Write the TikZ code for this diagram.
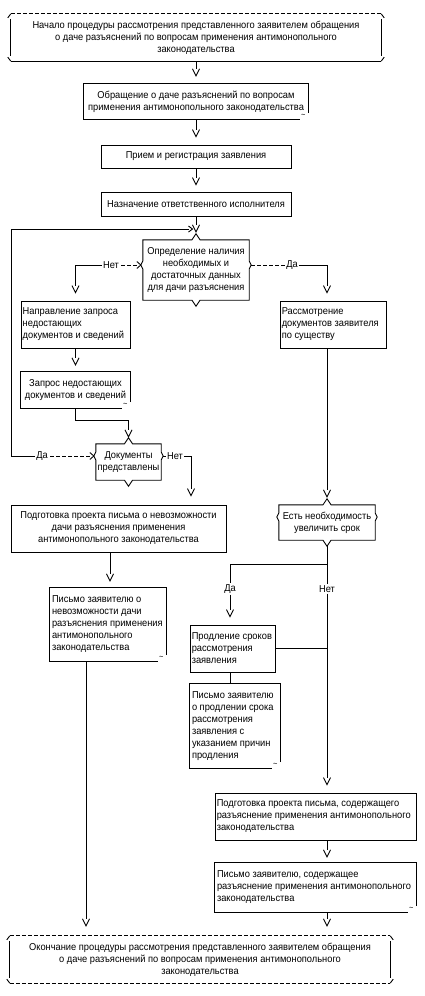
\documentclass[tikz,border=0pt]{standalone}
\usepackage{fontspec}
\setmainfont[FakeStretch=0.93]{Liberation Sans}
\usetikzlibrary{arrows.meta,calc}
\pgfdeclarearrow{
  name = Vee,
  parameters = {\the\pgfarrowlength,\the\pgfarrowwidth},
  setup code = {
    \pgfarrowssettipend{\pgfarrowlength}
    \pgfarrowssetlineend{0pt}
    \pgfarrowssetbackend{0pt}
    \pgfarrowshullpoint{\pgfarrowlength}{0pt}
    \pgfarrowsupperhullpoint{0pt}{.5\pgfarrowwidth}
    \pgfarrowssavethe\pgfarrowlength
    \pgfarrowssavethe\pgfarrowwidth
  },
  drawing code = {
    \pgfpathmoveto{\pgfqpoint{0pt}{.5\pgfarrowwidth}}
    \pgfpathlineto{\pgfqpoint{\pgfarrowlength}{0pt}}
    \pgfpathlineto{\pgfqpoint{0pt}{-.5\pgfarrowwidth}}
    \pgfusepathqstroke
  },
  defaults = {length=7pt,width=7pt}
}
\newcommand\dfont{\fontsize{10}{12}\selectfont}
\tikzset{
  ln/.style={line width=0.9pt},
  arr/.style={ln,-{Vee}},
  hv/.style={ln,-{Vee[length=4pt,width=6pt]}},
  dsh/.style={ln,dash pattern=on 4pt off 2pt},
  box/.style={draw,ln,rectangle,inner sep=0pt},
  shp/.style={rectangle,inner sep=0pt},
  txt/.style={align=left,inner sep=0pt,anchor=west},
  lab/.style={inner sep=1pt},
}
\newcommand\termframe[3]{%
  \draw[ln,#2] (#1.north west) -- (#1.north east);
  \draw[ln,#3] (#1.south west) -- (#1.south east);
  \draw[ln] (#1.north west) -- ([xshift=-3pt,yshift=-4pt]#1.north west);
  \draw[ln] ([yshift=-5pt]#1.north west) -- ([yshift=5pt]#1.south west);
  \draw[ln] ([xshift=-3pt,yshift=4pt]#1.south west) -- (#1.south west);
  \draw[ln] (#1.north east) -- ([xshift=3pt,yshift=-4pt]#1.north east);
  \draw[ln] ([yshift=-5pt]#1.north east) -- ([yshift=5pt]#1.south east);
  \draw[ln] ([xshift=3pt,yshift=4pt]#1.south east) -- (#1.south east);
}
\newcommand\docframe[1]{%
  \draw[ln] ([yshift=6pt]#1.south east) -- (#1.north east) -- (#1.north west) -- (#1.south west) -- ([xshift=-8pt]#1.south east);
  \node[font=\fontsize{8}{8}\selectfont,inner sep=0pt] (#1-m) at ([xshift=-5pt,yshift=3pt]#1.south east) {\textasciitilde};
}
\newcommand\decframe[2]{%
  \coordinate (#1-t) at ([yshift=6pt]#1.north);
  \coordinate (#1-b) at ([yshift=-6pt]#1.south);
  \coordinate (#1-l) at ([xshift=-6pt,yshift=#2]#1.west);
  \coordinate (#1-r) at ([xshift=2pt,yshift=#2]#1.east);
  \draw[ln] (#1.north west) -- ([xshift=-4pt]#1.north) -- (#1-t) -- ([xshift=4pt]#1.north) -- (#1.north east)
     -- ([yshift=#2+4pt]#1.east) -- (#1-r) -- ([yshift=#2-4pt]#1.east) -- (#1.south east)
     -- ([xshift=4pt]#1.south) -- (#1-b) -- ([xshift=-4pt]#1.south) -- (#1.south west)
     -- ([yshift=#2-4pt]#1.west) -- ([xshift=-2pt,yshift=#2]#1.west) -- ([yshift=#2+4pt]#1.west) -- cycle;
}
\newcommand\decin[1]{%
  \draw[ln] ([yshift=3.5pt]#1-l) -- ([xshift=4pt]#1-l) -- ([yshift=-3.5pt]#1-l);
}
\begin{document}
\begin{tikzpicture}[x=1pt,y=-1pt,every node/.style={font=\dfont}]
\useasboundingbox (0,0) rectangle (424,996);

% start terminator
\node[shp,minimum width=370pt,minimum height=47pt,align=center] (start) at (196,37.5)
  {Начало процедуры рассмотрения представленного заявителем обращения\\о даче разъяснений по вопросам применения антимонопольного\\законодательства};
\termframe{start}{dsh}{}

\node[shp,minimum width=224pt,minimum height=35pt,align=center] (b1) at (196,101.5)
  {Обращение о даче разъяснений по вопросам\\применения антимонопольного законодательства};
\docframe{b1}

\node[box,minimum width=190pt,minimum height=23pt] (b2) at (196,156.5) {Прием и регистрация заявления};
\node[box,minimum width=190pt,minimum height=24pt] (b3) at (196,204) {Назначение ответственного исполнителя};

\node[shp,minimum width=106pt,minimum height=60pt,align=center] (d1) at (196,270)
  {Определение наличия\\необходимых и\\достаточных данных\\для дачи разъяснения};
\decframe{d1}{5pt}
\decin{d1}

\node[box,minimum width=109pt,minimum height=47pt] (b4) at (75.5,324.5) {};
\node[txt] (b4t) at ([xshift=2pt]b4.west) {Направление запроса\\недостающих\\документов и сведений};

\node[box,minimum width=106pt,minimum height=47pt] (b5) at (333,324.5) {};
\node[txt] (b5t) at ([xshift=2pt]b5.west) {Рассмотрение\\документов заявителя\\по существу};

\node[shp,minimum width=109pt,minimum height=36pt,align=center] (b6) at (75.5,390)
  {Запрос недостающих\\документов и сведений};
\docframe{b6}

\node[shp,minimum width=65pt,minimum height=36pt,align=center] (d2) at (128.5,462)
  {Документы\\представлены};
\decframe{d2}{6pt}
\decin{d2}

\node[box,minimum width=215pt,minimum height=47pt,align=center] (b7) at (118.5,528.5)
  {Подготовка проекта письма о невозможности\\дачи разъяснения применения\\антимонопольного законодательства};

\node[shp,minimum width=96pt,minimum height=35pt,align=center] (d3) at (327,522.5)
  {Есть необходимость\\увеличить срок};
\decframe{d3}{5.5pt}

\node[shp,minimum width=116pt,minimum height=73pt] (b8) at (108,624.5) {};
\node[txt] (b8t) at ([xshift=2pt]b8.west) {Письмо заявителю о\\невозможности дачи\\разъяснения применения\\антимонопольного\\законодательства};
\docframe{b8}

\node[box,minimum width=85pt,minimum height=47pt] (b9) at (232.5,648.5) {};
\node[txt] (b9t) at ([xshift=2pt]b9.west) {Продление сроков\\рассмотрения\\заявления};

\node[shp,minimum width=90pt,minimum height=84pt] (b10) at (235,726) {};
\node[txt] (b10t) at ([xshift=2pt]b10.west) {Письмо заявителю\\о продлении срока\\рассмотрения\\заявления с\\указанием причин\\продления};
\docframe{b10}

\node[box,minimum width=201pt,minimum height=47pt] (b11) at (315.5,816.5) {};
\node[txt] (b11t) at ([xshift=2pt]b11.west) {Подготовка проекта письма, содержащего\\разъяснение применения антимонопольного\\законодательства};

\node[shp,minimum width=201pt,minimum height=49pt] (b12) at (315.5,887.5) {};
\node[txt] (b12t) at ([xshift=2pt]b12.west) {Письмо заявителю, содержащее\\разъяснение применения антимонопольного\\законодательства};
\docframe{b12}

\node[shp,minimum width=380pt,minimum height=47pt,align=center] (end) at (200,959.5)
  {Окончание процедуры рассмотрения представленного заявителем обращения\\о даче разъяснений по вопросам применения антимонопольного\\законодательства};
\termframe{end}{dsh}{dsh}

% labels
\node[lab] (n1) at (111,265) {Нет};
\node[lab] (a1) at (292,265) {Да};
\node[lab] (a2) at (42,456) {Да};
\node[lab] (n2) at (175,456) {Нет};
\node[lab] (a3) at (230,589) {Да};
\node[lab] (n3) at (327,589) {Нет};

\coordinate (j1) at (192.5,229);
\coordinate (lp) at (11,229);
\coordinate (jn) at (327,564);

% main column
\draw[arr,shorten >=8pt] (start.south) -- (start.south |- b1.north);
\draw[arr,shorten >=8pt] (b1.south) -- (b1.south |- b2.north);
\draw[arr,shorten >=7pt] (b2.south) -- (b2.south |- b3.north);
\draw[arr,shorten >=2pt] (b3.south) -- (d1-t);

% decision 1 branches
\draw[dsh] (d1-l) -- (n1.east);
\draw[arr,shorten >=8pt] (n1.west) -| (b4.north);
\draw[dsh] (d1-r) -- (a1.west);
\draw[arr,shorten >=8pt] (a1.east) -| (b5.north -| d3-t);

% left column
\draw[arr,shorten >=7pt] (b4.south) -- (b6.north);
\draw[arr,shorten >=1pt] (b6.south) -- ++(0,12) -| (d2-t);
\draw[dsh] (d2-l) -- (a2.east);
\draw[hv] (a2.west) -| (lp) -- (j1);
\draw[dsh] (d2-r) -- (n2.west);
\draw[arr,shorten >=9pt] (n2.east) -| (191,0 |- b7.north);
\draw[arr,shorten >=7pt] (b7.south -| 110,0) -- (110,0 |- b8.north);
\draw[arr,shorten >=10pt] (b8.south -| 86,0) -- (86,0 |- end.north);

% right column
\draw[arr,shorten >=2pt] (b5.south -| d3-t) -- (d3-t);
\draw[ln] (d3-b) -- (jn);
\draw[ln] (jn) -| (a3.north);
\draw[arr,shorten >=8pt] (a3.south) -- (a3.south |- b9.north);
\draw[ln] (jn) -- (n3.north);
\draw[arr,shorten >=8pt] (n3.south) -- (n3.south |- b11.north);
\draw[ln] (b9.east) -- (b9.east -| jn);
\draw[ln] (b9.south -| 230,0) -- (230,0 |- b10.north);
\draw[arr,shorten >=6pt] (b11.south -| jn) -- (b12.north -| jn);
\draw[arr,shorten >=10pt] (b12.south -| jn) -- (end.north -| jn);
\end{tikzpicture}
\end{document}
